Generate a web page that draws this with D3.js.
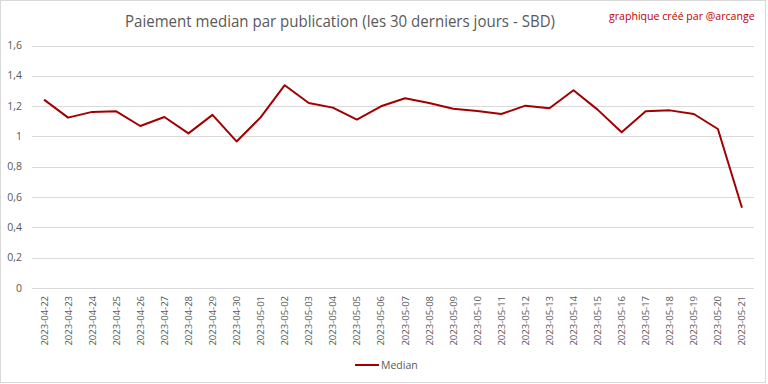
<!DOCTYPE html>
<html lang="fr">
<head>
  <meta charset="UTF-8" />
  <title>Paiement median par publication</title>
  <script src="https://d3js.org/d3.v7.min.js"></script>
  <style>
    body { margin: 0; background: #fff; }
    svg { display: block; font-family: "Open Sans", "Noto Sans", sans-serif; }
  </style>
</head>
<body>
<svg id="chart" width="768" height="384"></svg>
<script>
const dates = [
  "2023-04-22","2023-04-23","2023-04-24","2023-04-25","2023-04-26","2023-04-27",
  "2023-04-28","2023-04-29","2023-04-30","2023-05-01","2023-05-02","2023-05-03",
  "2023-05-04","2023-05-05","2023-05-06","2023-05-07","2023-05-08","2023-05-09",
  "2023-05-10","2023-05-11","2023-05-12","2023-05-13","2023-05-14","2023-05-15",
  "2023-05-16","2023-05-17","2023-05-18","2023-05-19","2023-05-20","2023-05-21"
];
const median = [
  1.243, 1.124, 1.162, 1.166, 1.069, 1.128, 1.020, 1.142, 0.967, 1.126,
  1.338, 1.221, 1.190, 1.111, 1.199, 1.252, 1.220, 1.183, 1.168, 1.148,
  1.203, 1.186, 1.305, 1.177, 1.027, 1.166, 1.172, 1.148, 1.049, 0.529
];
const yTicks = [0, 0.2, 0.4, 0.6, 0.8, 1, 1.2, 1.4, 1.6];

const svg = d3.select("#chart");
const W = 768, H = 384;
const margin = {left: 32, right: 14, top: 45.5, bottom: 96};
const grey = "#595959";

// frame
svg.append("rect")
  .attr("x", 0.5).attr("y", 0.5).attr("width", 765).attr("height", 382)
  .attr("fill", "#fff").attr("stroke", "#d9d9d9");

const x = d3.scaleBand().domain(dates).range([margin.left, W - margin.right]);
const y = d3.scaleLinear().domain([0, 1.6]).range([H - margin.bottom, margin.top]);

// gridlines
svg.append("g")
  .selectAll("line")
  .data(yTicks)
  .join("line")
  .attr("x1", margin.left).attr("x2", W - margin.right)
  .attr("y1", d => Math.round(y(d)) + 0.5).attr("y2", d => Math.round(y(d)) + 0.5)
  .attr("stroke", "#d9d9d9").attr("stroke-width", 1);

// y labels
const fmt = d => String(d).replace(".", ",");
svg.append("g")
  .selectAll("text")
  .data(yTicks)
  .join("text")
  .attr("x", 22).attr("y", d => y(d))
  .attr("dy", "0.35em")
  .attr("text-anchor", "end")
  .attr("font-size", 10.5)
  .attr("fill", grey)
  .text(fmt);

// x labels
svg.append("g")
  .selectAll("text")
  .data(dates)
  .join("text")
  .attr("transform", d => `translate(${x(d) + x.bandwidth() / 2 + 3.5},296) rotate(-90)`)
  .attr("text-anchor", "end")
  .attr("font-size", 9.5)
  .attr("fill", grey)
  .text(d => d);

// line
const line = d3.line()
  .x((d, i) => x(dates[i]) + x.bandwidth() / 2)
  .y(d => y(d));
svg.append("path")
  .datum(median)
  .attr("d", line)
  .attr("fill", "none")
  .attr("stroke", "#a00000")
  .attr("stroke-width", 2)
  .attr("stroke-linejoin", "round");

// title
svg.append("text")
  .attr("x", 340).attr("y", 27)
  .attr("text-anchor", "middle")
  .attr("font-size", 17)
  .attr("fill", grey)
  .attr("textLength", 430)
  .attr("lengthAdjust", "spacingAndGlyphs")
  .text("Paiement median par publication (les 30 derniers jours - SBD)");

svg.append("text")
  .attr("x", 609).attr("y", 20)
  .attr("font-size", 10.6)
  .attr("fill", "#c00000")
  .text("graphique créé par @arcange");

// legend
svg.append("line")
  .attr("x1", 355).attr("x2", 379).attr("y1", 365).attr("y2", 365)
  .attr("stroke", "#a00000").attr("stroke-width", 2);
svg.append("text")
  .attr("x", 381).attr("y", 365).attr("dy", "0.35em")
  .attr("font-size", 10.5)
  .attr("fill", grey)
  .text("Median");
</script>
</body>
</html>
